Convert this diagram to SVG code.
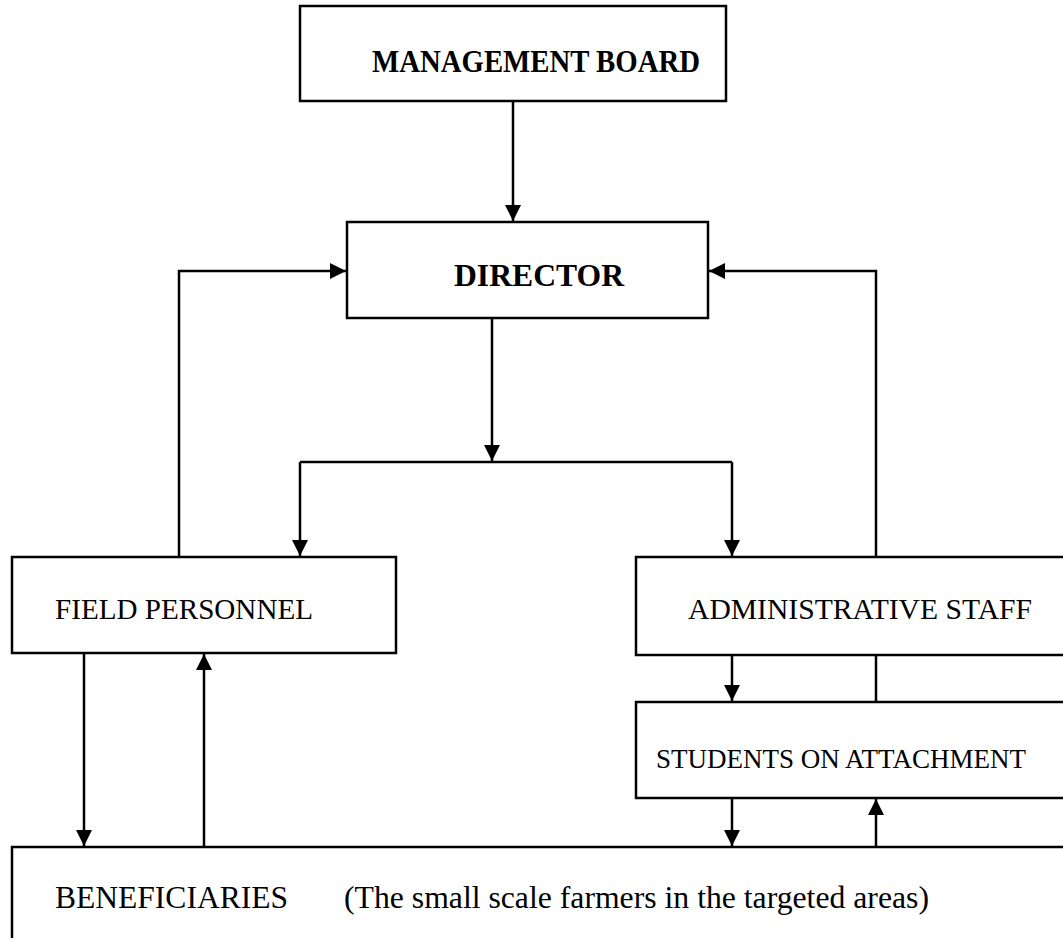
<svg xmlns="http://www.w3.org/2000/svg" width="1063" height="938" viewBox="0 0 1063 938">
<style>
.box{fill:#fff;stroke:#000;stroke-width:2.5}
.ln{fill:none;stroke:#000;stroke-width:2.5}
.t{font-family:"Liberation Serif","Times New Roman",serif;fill:#000}
.b{font-weight:bold}
</style>
<defs>
<marker id="ah" markerUnits="userSpaceOnUse" markerWidth="18" markerHeight="18" viewBox="0 0 18 18" refX="16" refY="9" orient="auto">
<path d="M0,1 L16,9 L0,17 Z" fill="#000"/>
</marker>
</defs>
<rect width="1063" height="938" fill="#fff"/>
<g id="connectors">
<path class="ln" d="M513,101 V221" marker-end="url(#ah)"/>
<path class="ln" d="M492,318 V461" marker-end="url(#ah)"/>
<path class="ln" d="M300,462 H732"/>
<path class="ln" d="M300,462 V556" marker-end="url(#ah)"/>
<path class="ln" d="M732,462 V556" marker-end="url(#ah)"/>
<path class="ln" d="M179,557 V271 H346" marker-end="url(#ah)"/>
<path class="ln" d="M876,702 V655"/>
<path class="ln" d="M876,557 V271 H709" marker-end="url(#ah)"/>
<path class="ln" d="M732,655 V701" marker-end="url(#ah)"/>
<path class="ln" d="M732,798 V846" marker-end="url(#ah)"/>
<path class="ln" d="M876,847 V799" marker-end="url(#ah)"/>
<path class="ln" d="M84,653 V846" marker-end="url(#ah)"/>
<path class="ln" d="M204,847 V654" marker-end="url(#ah)"/>
</g>
<g id="management-board">
<rect class="box" x="300" y="6" width="426" height="95"/>
<text class="t b" x="372" y="72" font-size="31" textLength="328" lengthAdjust="spacingAndGlyphs">MANAGEMENT BOARD</text>
</g>
<g id="director">
<rect class="box" x="347" y="222" width="361" height="96"/>
<text class="t b" x="454" y="286" font-size="31.5" textLength="170" lengthAdjust="spacingAndGlyphs">DIRECTOR</text>
</g>
<g id="field-personnel">
<rect class="box" x="12" y="557" width="384" height="96"/>
<text class="t" x="55" y="619" font-size="29" textLength="258" lengthAdjust="spacingAndGlyphs">FIELD PERSONNEL</text>
</g>
<g id="administrative-staff">
<rect class="box" x="636" y="557" width="430" height="98"/>
<text class="t" x="688" y="619" font-size="28.5" textLength="344" lengthAdjust="spacingAndGlyphs">ADMINISTRATIVE STAFF</text>
</g>
<g id="students-on-attachment">
<rect class="box" x="636" y="702" width="430" height="96"/>
<text class="t" x="656" y="768" font-size="26.5" textLength="370" lengthAdjust="spacingAndGlyphs">STUDENTS ON ATTACHMENT</text>
</g>
<g id="beneficiaries">
<rect class="box" x="12" y="847" width="1054" height="95"/>
<text class="t" x="55" y="908" font-size="31" textLength="233" lengthAdjust="spacingAndGlyphs">BENEFICIARIES</text>
<text class="t" x="344" y="908" font-size="31" textLength="585" lengthAdjust="spacingAndGlyphs">(The small scale farmers in the targeted areas)</text>
</g>
</svg>
